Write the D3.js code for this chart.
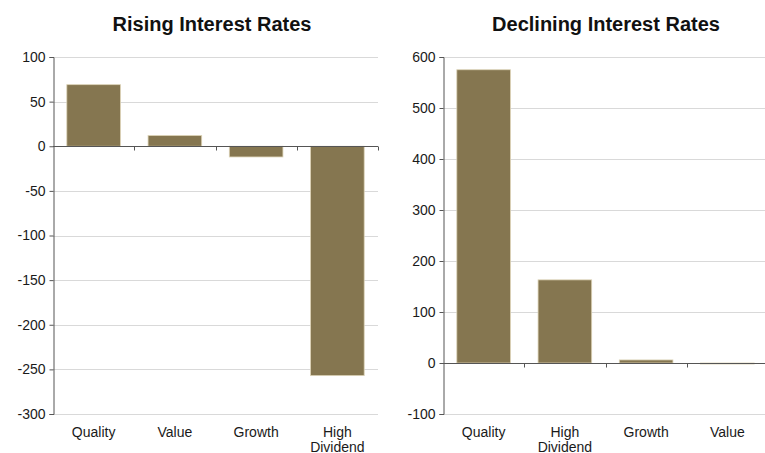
<!DOCTYPE html>
<html>
<head>
<meta charset="utf-8">
<script src="https://cdn.jsdelivr.net/npm/d3@7"></script>
<style>
  html, body { margin: 0; padding: 0; background: #fff; }
  svg { display: block; }
  text { font-family: "Liberation Sans", Arial, sans-serif; }
</style>
</head>
<body>
<svg id="chart" width="765" height="453"></svg>
<script>
// Rising interest rates panel
const risingCategories = ["Quality", "Value", "Growth", "High Dividend"];
const risingValues = [69, 12, -12, -257];
const risingTicks = [100, 50, 0, -50, -100, -150, -200, -250, -300];

// Declining interest rates panel
const decliningCategories = ["Quality", "High Dividend", "Growth", "Value"];
const decliningValues = [575, 163, 6, -2];
const decliningTicks = [600, 500, 400, 300, 200, 100, 0, -100];

const titles = ["Rising Interest Rates", "Declining Interest Rates"];

const svg = d3.select("#chart");
const barColor = "#857650";
const barEdge = "#dcd3b6";
const axisColor = "#555555";
const gridColor = "#d9d9d9";
const textColor = "#1a1a1a";

function drawPanel(opts) {
  const { left, right, top, bottom, categories, values, ticks, title, titleX } = opts;
  const g = svg.append("g");

  const x = d3.scaleBand().domain(categories).range([left, right]).paddingInner(0.34).paddingOuter(0.17);
  const y = d3.scaleLinear().domain([d3.min(ticks), d3.max(ticks)]).range([bottom, top]);

  // horizontal gridlines
  g.append("g").selectAll("line").data(ticks).join("line")
    .attr("x1", left).attr("x2", right)
    .attr("y1", d => Math.round(y(d)) + 0.5).attr("y2", d => Math.round(y(d)) + 0.5)
    .attr("stroke", gridColor).attr("stroke-width", 1);

  // bars
  g.append("g").selectAll("rect").data(values).join("rect")
    .attr("x", (d, i) => x(categories[i]))
    .attr("width", x.bandwidth())
    .attr("y", d => y(Math.max(0, d)))
    .attr("height", d => Math.max(1, Math.abs(y(d) - y(0))))
    .attr("fill", barColor)
    .attr("stroke", barEdge).attr("stroke-width", 0.8);

  // y axis, plain hyphen for negatives
  const yAxis = d3.axisLeft(y).tickValues(ticks).tickSize(4).tickPadding(4).tickFormat(d => String(d));
  const ya = g.append("g").attr("transform", `translate(${left + 0.5},0)`).call(yAxis);
  ya.attr("font-family", null).attr("font-size", null);
  ya.select(".domain").attr("stroke", axisColor);
  ya.selectAll(".tick line").attr("stroke", axisColor);
  ya.selectAll(".tick text").attr("fill", textColor).style("font-size", "14px");

  // zero line with ticks at category boundaries
  const y0 = Math.round(y(0)) + 0.5;
  g.append("line").attr("x1", left).attr("x2", right).attr("y1", y0).attr("y2", y0)
    .attr("stroke", axisColor).attr("stroke-width", 1);
  const step = x.step();
  const bounds = d3.range(1, categories.length + 1).map(i => left + i * step);
  g.append("g").selectAll("line").data(bounds).join("line")
    .attr("x1", d => Math.round(d) + 0.5).attr("x2", d => Math.round(d) + 0.5)
    .attr("y1", y0).attr("y2", y0 + 4)
    .attr("stroke", axisColor);

  // category labels, one text per line
  const lines = [];
  categories.forEach(c => c.split(" ").forEach((w, i) => lines.push({ c, w, i })));
  g.append("g").selectAll("text").data(lines).join("text")
    .attr("text-anchor", "middle")
    .attr("x", d => x(d.c) + x.bandwidth() / 2)
    .attr("y", d => bottom + 23 + d.i * 15)
    .attr("fill", textColor)
    .style("font-size", "14px")
    .text(d => d.w);

  // panel title
  svg.append("text").attr("x", titleX).attr("y", 31).attr("text-anchor", "middle")
    .attr("fill", "#111").style("font-size", "20px").style("font-weight", "bold")
    .text(title);
}

drawPanel({
  left: 53, right: 378, top: 57, bottom: 414,
  categories: risingCategories, values: risingValues, ticks: risingTicks,
  title: titles[0], titleX: 212
});
drawPanel({
  left: 443, right: 768, top: 57, bottom: 414,
  categories: decliningCategories, values: decliningValues, ticks: decliningTicks,
  title: titles[1], titleX: 606
});
</script>
</body>
</html>
